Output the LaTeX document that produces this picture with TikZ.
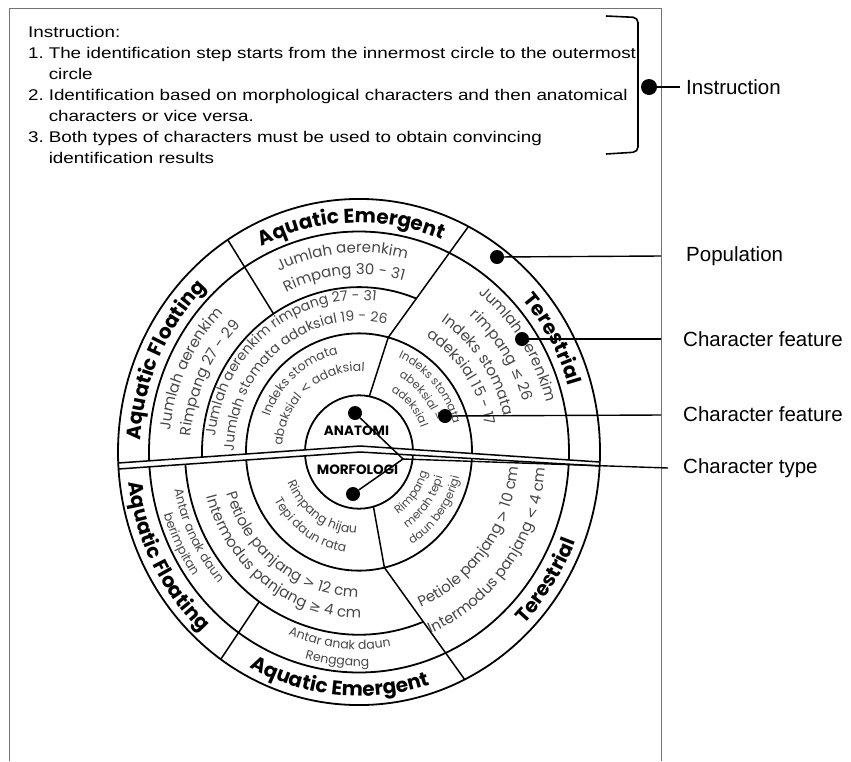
\documentclass[tikz,border=0pt]{standalone}
\usepackage{fontspec}
\usepackage{graphicx}
\setmainfont{Liberation Sans}
\newfontfamily\ringfont{Poppins}
\newfontfamily\symfont{DejaVu Sans}
\usetikzlibrary{decorations.text}
\definecolor{ringgray}{gray}{0.28}
\definecolor{framegray}{gray}{0.45}
\newcommand{\popf}{\ringfont\bfseries\fontsize{20}{20}\selectfont}
\newcommand{\rtf}{\ringfont\fontsize{15}{15}\selectfont}
\newcommand{\mtf}{\ringfont\fontsize{14}{14}\selectfont}
\newcommand{\stf}{\ringfont\fontsize{12.5}{12.5}\selectfont}
\newcommand{\tf}{\ringfont\fontsize{11.5}{11.5}\selectfont}
\newcommand{\symf}{\symfont\fontsize{14}{14}\selectfont}
\newcommand{\symsf}{\symfont\fontsize{12.5}{12.5}\selectfont}
\tikzset{dot/.style = {fill, circle, inner sep = 0, minimum size = 14}}
\tikzset{ringline/.style = {line width = 1.8}}
\tikzset{sectorline/.style = {line width = 1.5}}
\tikzset{lbl/.style = {anchor = west, inner sep = 0, font = \fontsize{20.5}{24}\selectfont}}
\tikzset{coretext/.style = {inner sep = 0, font = \ringfont\bfseries\fontsize{13.5}{13.5}\selectfont}}
\tikzset{poptext/.style = {decorate, decoration = {text along path, text align = center,
  text = {|\popf|#1}}}}
\tikzset{ringtext/.style = {decorate, decoration = {text along path, text align = center, text color = ringgray,
  text = {|\rtf|#1}}}}
\tikzset{midtext/.style = {decorate, decoration = {text along path, text align = center, text color = ringgray,
  text = {|\mtf|#1}}}}
\tikzset{smalltext/.style = {decorate, decoration = {text along path, text align = center, text color = ringgray,
  text = {|\stf|#1}}}}
\tikzset{tinytext/.style = {decorate, decoration = {text along path, text align = center, text color = ringgray,
  text = {|\tf|#1}}}}

\begin{document}
\begin{tikzpicture}[x = 1pt, y = 1pt]
      \useasboundingbox (0, 0) rectangle (851, -761);

      \draw [framegray, line width = 1] (9, -761) -- (9, -8) -- (661, -8) -- (661, -761);

      \node [anchor = north west, inner sep = 0, font = \fontsize{15.5}{21}\selectfont] (instrtext) at (28, -22.8)
        {\scalebox{1.215}[1]{\begin{tabular}{@{}l@{\hspace{4pt}}l@{}}
          \multicolumn{2}{@{}l@{}}{Instruction:}\\
          1. & The identification step starts from the innermost circle to the outermost\\
             & circle\\
          2. & Identification based on morphological characters and then anatomical\\
             & characters or vice versa.\\
          3. & Both types of characters must be used to obtain convincing\\
             & identification results
        \end{tabular}}};

      \draw [line width = 1.6, rounded corners = 5] (606, -16) -- (638, -17.5) -- (638, -152) -- (606, -154);

      \begin{scope}[shift = {(359, -452)}]
        % upper half: anatomy
        \begin{scope}
          \clip (-260, -12.3) -- (1, 6) -- (260, -11.5) -- (260, 280) -- (-260, 280) -- cycle;
          \begin{scope}[yscale = 1.05]
            \draw [ringline] (0, 0) circle (54);
            \draw [ringline] (0, 0) circle (113);
            \draw [ringline] (68.6:157) arc (68.6:200:157);
            \draw [ringline] (0, 0) circle (210);
            \draw [sectorline] (79:54) -- (75:113) -- (63:241);
            \draw [sectorline] (123:157) -- (123:241);

            \path [poptext = {Aquatic Floating}] (215:218.5) arc (215:95:218.5);
            \path [poptext = {Aquatic Emergent}] (152:218.5) arc (152:32:218.5);
            \path [poptext = {Terestrial}] (90:218.5) arc (90:-30:218.5);

            \path [ringtext = {Jumlah aerenkim}] (214:189.8) arc (214:94:189.8);
            \path [ringtext = {Rimpang 27 - 29}] (214:168.8) arc (214:94:168.8);
            \path [ringtext = {Jumlah aerenkim}] (155:189.8) arc (155:35:189.8);
            \path [ringtext = {Rimpang 30 - 31}] (155:168.8) arc (155:35:168.8);

            \path [midtext = {Jumlah aerenkim rimpang 27 - 31}] (208:144.5) arc (208:48:144.5);
            \path [midtext = {Jumlah stomata adaksial 19 - 26}] (208:125) arc (208:48:125);

            \path [smalltext = {Indeks stomata}] (210:95.5) arc (210:50:95.5);
            \path [smalltext = {abaksial |\symsf|<|\stf| adaksial}] (210:77) arc (210:50:77);
            \path [tinytext = {Indeks stomata}] (122:98) arc (122:-38:98);
            \path [tinytext = {abeksial =}] (122:82) arc (122:-38:82);
            \path [tinytext = {adeksial}] (122:66) arc (122:-38:66);

            \path [ringtext = {Jumlah aerenkim}] (114:192.8) arc (114:-46:192.8);
            \path [ringtext = {rimpang |\symf|≤|\rtf| 26}] (114:170.8) arc (114:-46:170.8);
            \path [ringtext = {Indeks stomata}] (116:148.8) arc (116:-44:148.8);
            \path [ringtext = {adeksial 15 - 17}] (116:128.8) arc (116:-44:128.8);
          \end{scope}
        \end{scope}

        % lower half: morphology
        \begin{scope}
          \clip (-260, -18.3) -- (1, 0) -- (260, -15.3) -- (260, -280) -- (-260, -280) -- cycle;
          \begin{scope}[yscale = 1.05]
            \draw [ringline] (0, 0) circle (54);
            \draw [ringline] (0, 0) circle (113);
            \draw [ringline] (-68.3:174) arc (-68.3:-200:174);
            \draw [ringline] (0, 0) circle (210);
            \draw [sectorline] (-74.5:54) -- (-77:113) -- (-64:241);
            \draw [sectorline] (235:174) -- (235:241);

            \path [poptext = {Aquatic Floating}] (148:232.5) arc (148:268:232.5);
            \path [poptext = {Aquatic Emergent}] (205:232.5) arc (205:325:232.5);
            \path [poptext = {Terestrial}] (266:232.5) arc (266:386:232.5);

            \path [smalltext = {Antar anak daun}] (147:188) arc (147:267:188);
            \path [smalltext = {berimpitan}] (147:204) arc (147:267:204);
            \path [smalltext = {Antar anak daun}] (204:188) arc (204:324:188);
            \path [smalltext = {Renggang}] (204:204) arc (204:324:204);

            \path [ringtext = {Petiole panjang |\symf|>|\rtf| 12 cm}] (154:138.2) arc (154:314:138.2);
            \path [ringtext = {Intermodus panjang |\symf|≥|\rtf| 4 cm}] (154:158.2) arc (154:314:158.2);

            \path [smalltext = {Rimpang hijau}] (166:77.4) arc (166:306:77.4);
            \path [smalltext = {Tepi daun rata}] (166:96.4) arc (166:306:96.4);
            \path [tinytext = {Rimpang}] (263:71) arc (263:383:71);
            \path [tinytext = {merah tepi}] (263:87) arc (263:383:87);
            \path [tinytext = {daun bergerigi}] (263:103) arc (263:383:103);

            \path [ringtext = {Petiole panjang |\symf|>|\rtf| 10 cm}] (253:160.2) arc (253:393:160.2);
            \path [ringtext = {Intermodus panjang |\symf|<|\rtf| 4 cm}] (253:187.2) arc (253:393:187.2);
          \end{scope}
        \end{scope}

        \draw [sectorline] (-240.8, -11) -- (1, 6) -- (240.8, -10);
        \draw [sectorline] (-240.5, -17) -- (1, 0) -- (240.6, -14);
        \draw [ringline, yscale = 1.05] (0, 0) circle (241);
      \end{scope}

      \node [coretext] (anatomi) at (356.5, -431) {ANATOMI};
      \node [coretext] (morfologi) at (357.5, -470) {MORFOLOGI};

      \node [dot] (anadot) at (355, -413) {};
      \node [dot] (morfdot) at (353, -494) {};
      \coordinate (junc) at (403, -459);
      \draw [line width = 1.5] (anadot) -- (junc) -- (morfdot);

      \node [dot] (popdot) at (497, -257) {};
      \node [dot] (featdot) at (522, -339) {};
      \node [dot] (innerdot) at (445, -416) {};
      \node [dot, minimum size = 16] (instrdot) at (649, -87) {};

      \coordinate (instrend) at (680, -87);
      \coordinate (popend) at (661, -256);
      \coordinate (featend) at (661, -339);
      \coordinate (innerend) at (661, -415);
      \coordinate (typeend) at (668, -468);

      \draw [line width = 1.4] (instrdot) -- (instrend);
      \draw [line width = 1.4] (popdot) -- (popend);
      \draw [line width = 1.4] (featdot) -- (featend);
      \draw [line width = 1.4] (innerdot) -- (innerend);
      \draw [line width = 1.4] (junc) -- (typeend);

      \node [lbl] (instrlbl) at (686, -87) {Instruction};
      \node [lbl] (poplbl) at (686, -256) {Population};
      \node [lbl] (featlbl) at (683, -339) {Character feature};
      \node [lbl] (innerlbl) at (683, -414) {Character feature};
      \node [lbl] (typelbl) at (683, -468) {Character type};
    \end{tikzpicture}
\end{document}
